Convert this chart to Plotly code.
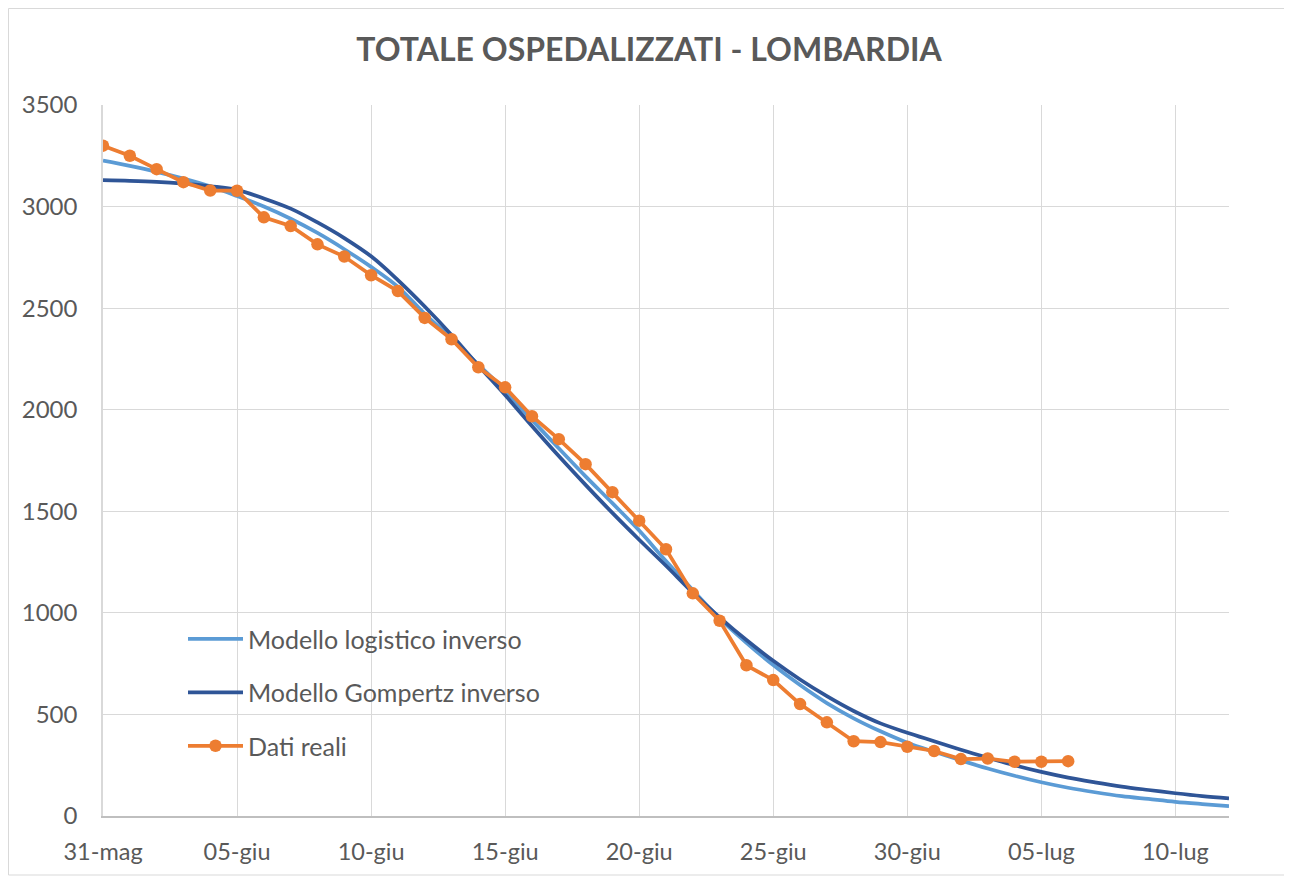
import plotly.graph_objects as go
import pandas as pd

# ---- data ----
model_dates = [d.strftime("%Y-%m-%d") for d in pd.date_range("2020-05-31", "2020-07-12", freq="D")]
real_dates = model_dates[:37]

logistico = [3226, 3200, 3171, 3138, 3100, 3052, 3000, 2940, 2870, 2790,
             2703, 2605, 2472, 2350, 2222, 2094, 1950, 1810, 1672, 1540,
             1405, 1255, 1112, 973, 853, 743, 645, 556, 481, 417,
             361, 316, 274, 234, 198, 166, 139, 117, 98, 84,
             70, 59, 49]

gompertz = [3130, 3127, 3122, 3113, 3100, 3082, 3040, 2990, 2922, 2845,
            2755, 2638, 2508, 2368, 2218, 2072, 1920, 1772, 1630, 1492,
            1360, 1232, 1100, 978, 866, 764, 672, 590, 517, 456,
            410, 368, 326, 287, 250, 217, 189, 166, 145, 128,
            112, 98, 87]

dati_reali = [3300, 3250, 3184, 3120, 3079, 3078, 2947, 2904, 2814, 2754,
              2662, 2584, 2452, 2347, 2209, 2110, 1968, 1855, 1732, 1594,
              1454, 1313, 1096, 961, 742, 669, 551, 461, 368, 364,
              341, 320, 280, 283, 267, 267, 270]

tick_vals = ["2020-05-31", "2020-06-05", "2020-06-10", "2020-06-15", "2020-06-20",
             "2020-06-25", "2020-06-30", "2020-07-05", "2020-07-10"]
tick_text = ["31-mag", "05-giu", "10-giu", "15-giu", "20-giu",
             "25-giu", "30-giu", "05-lug", "10-lug"]

# ---- figure ----
FONT = "Lato"
GREY = "#595959"
OFF = 8  # page body margin
W, H = 1292 - OFF, 877 - OFF
ML, MR, MT, MB = 103 - OFF, 63, 105 - OFF, 61
PW, PH = W - ML - MR, H - MT - MB

def px_x(px):  # page pixel -> paper
    return (px - OFF - ML) / PW

def px_y(py):
    return (H - MB - (py - OFF)) / PH

fig = go.Figure()
fig.add_trace(go.Scatter(x=model_dates, y=logistico, mode="lines",
                         name="Modello logistico inverso", legendgroup="a",
                         line=dict(color="#5b9bd5", width=3.75, shape="spline")))
fig.add_trace(go.Scatter(x=model_dates, y=gompertz, mode="lines",
                         name="Modello Gompertz inverso", legendgroup="b",
                         line=dict(color="#2f5597", width=3.75, shape="spline")))
fig.add_trace(go.Scatter(x=real_dates, y=dati_reali, mode="lines+markers",
                         name="Dati reali", legendgroup="c",
                         line=dict(color="#ed7d31", width=3.75),
                         marker=dict(color="#ed7d31", size=12.5)))

fig.update_layout(
    width=W, height=H, autosize=False,
    margin=dict(l=ML, r=MR, t=MT, b=MB),
    paper_bgcolor="white", plot_bgcolor="white",
    font=dict(family=FONT, color=GREY),
    title=dict(text="<b>TOTALE OSPEDALIZZATI - LOMBARDIA</b>",
               font=dict(family=FONT, size=32, color=GREY),
               x=(649 - OFF) / W, xref="container", xanchor="center",
               y=1 - (50 - OFF) / H, yref="container", yanchor="middle"),
    xaxis=dict(type="date", range=["2020-05-31", "2020-07-12"],
               tickvals=tick_vals, ticktext=tick_text,
               showgrid=True, gridcolor="#d9d9d9", gridwidth=1,
               showline=True, linecolor="#bfbfbf", linewidth=1.5,
               zeroline=False, ticks="", ticklabelstandoff=14,
               tickfont=dict(family=FONT, size=23.5, color=GREY)),
    yaxis=dict(range=[0, 3500], dtick=500, tick0=0,
               showgrid=True, gridcolor="#d9d9d9", gridwidth=1,
               showline=True, linecolor="#d9d9d9", linewidth=1.5,
               zeroline=False, ticks="", ticklabelstandoff=19,
               tickfont=dict(family=FONT, size=24, color=GREY)),
    legend=dict(x=px_x(183), y=px_y(616), xanchor="left", yanchor="top",
                bgcolor="rgba(0,0,0,0)", borderwidth=0,
                font=dict(family=FONT, size=25, color=GREY),
                traceorder="grouped", tracegroupgap=18, itemwidth=55),
    shapes=[
        dict(type="rect", xref="paper", yref="paper", layer="between",
             x0=px_x(140), x1=px_x(578), y0=px_y(777), y1=px_y(613),
             fillcolor="white", line=dict(width=0)),
        dict(type="rect", xref="paper", yref="paper", layer="above",
             x0=px_x(OFF + 0.5), x1=px_x(1290), y0=px_y(875), y1=px_y(OFF + 0.5),
             fillcolor="rgba(0,0,0,0)", line=dict(color="#d9d9d9", width=1)),
    ],
)

fig.write_html("out.html")
